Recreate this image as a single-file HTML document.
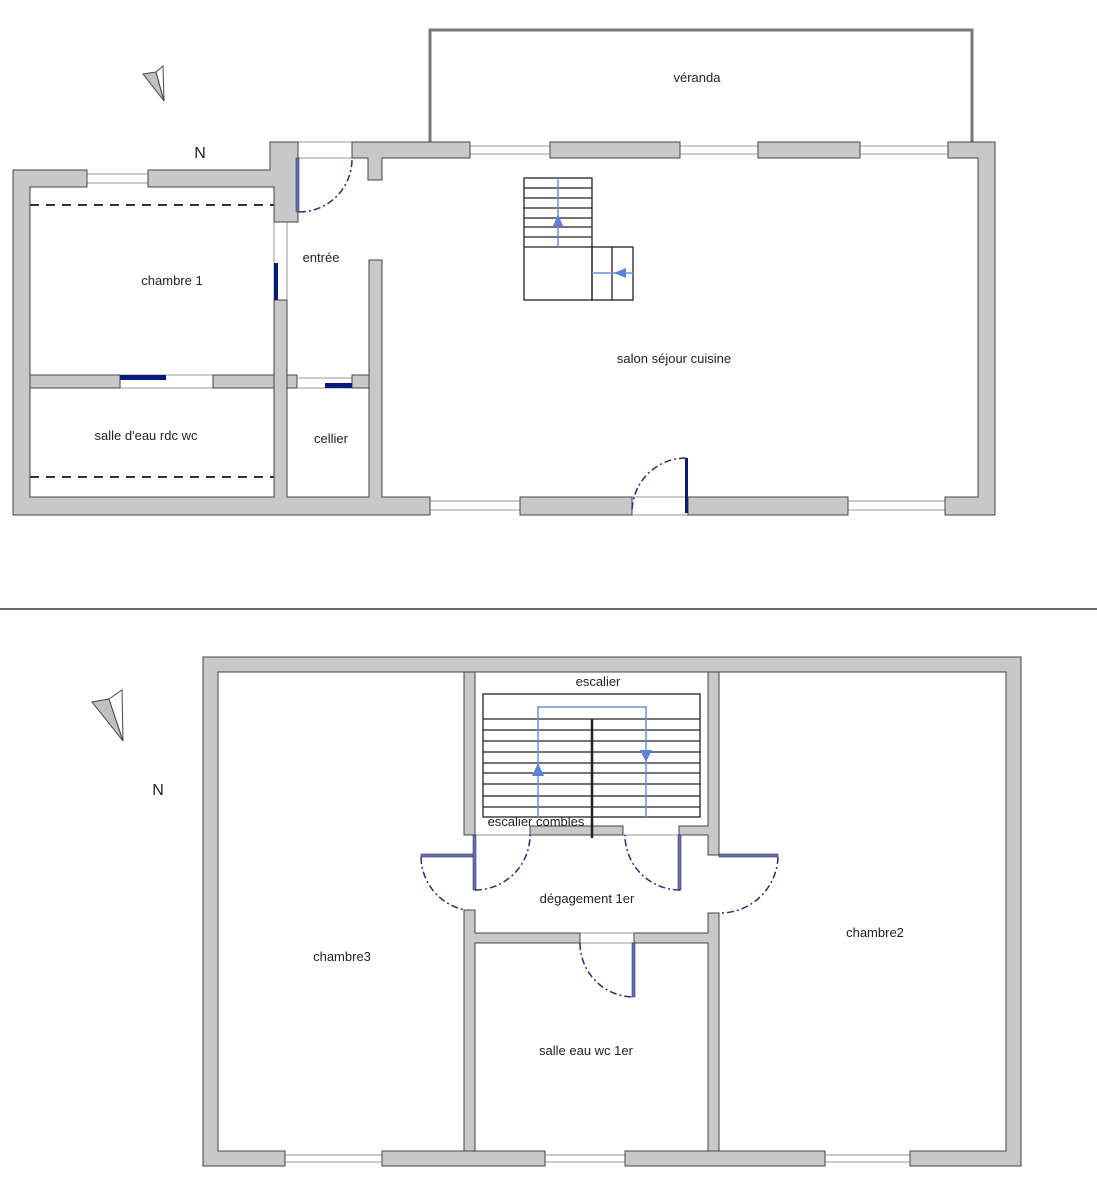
<!DOCTYPE html>
<html><head><meta charset="utf-8"><style>
html,body{margin:0;padding:0;background:#fff}
svg{display:block}
text{font-family:"Liberation Sans",sans-serif;font-size:13px;fill:#222}
.w{fill:#c8c8c8;stroke:#444;stroke-width:1}
.win{stroke:#999;stroke-width:1;fill:none}
.d{fill:none;stroke:#2a2a7a;stroke-width:1.5;stroke-dasharray:7,3,2,3}
.st{fill:none;stroke:#222;stroke-width:1.3}
.b{stroke:#6a8fd8;stroke-width:1.5;fill:none}
</style></head><body>
<svg width="1097" height="1200" viewBox="0 0 1097 1200" xmlns="http://www.w3.org/2000/svg">
<!-- véranda -->
<path d="M430 142 V30 H972 V142" fill="none" stroke="#777" stroke-width="3"/>
<text x="697" y="82" text-anchor="middle">véranda</text>
<!-- north arrow 1 -->
<polygon points="143,74 156,72 164,101" fill="#c0c0c0" stroke="#444" stroke-width="1"/>
<polygon points="156,72 163,66 164,101" fill="#fff" stroke="#444" stroke-width="1"/>
<text x="200" y="158" text-anchor="middle" style="font-size:16px">N</text>
<!-- ground floor windows -->
<g class="win">
<line x1="87" y1="174" x2="148" y2="174"/><line x1="87" y1="183" x2="148" y2="183"/>
<line x1="470" y1="146" x2="550" y2="146"/><line x1="470" y1="154" x2="550" y2="154"/>
<line x1="680" y1="146" x2="758" y2="146"/><line x1="680" y1="154" x2="758" y2="154"/>
<line x1="860" y1="146" x2="948" y2="146"/><line x1="860" y1="154" x2="948" y2="154"/>
<line x1="298" y1="142" x2="352" y2="142"/><line x1="298" y1="158" x2="352" y2="158"/>
<line x1="430" y1="501" x2="520" y2="501"/><line x1="430" y1="510" x2="520" y2="510"/>
<line x1="848" y1="501" x2="945" y2="501"/><line x1="848" y1="510" x2="945" y2="510"/>
<line x1="632" y1="497" x2="688" y2="497"/><line x1="632" y1="515" x2="688" y2="515"/>
<line x1="274" y1="222" x2="274" y2="300"/><line x1="287" y1="222" x2="287" y2="300"/>
<line x1="120" y1="375" x2="213" y2="375"/><line x1="120" y1="388" x2="213" y2="388"/>
<line x1="298" y1="378" x2="352" y2="378"/><line x1="298" y1="388" x2="352" y2="388"/>
</g>
<!-- ground floor walls -->
<path class="w" d="M13 170 H87 V187 H30 V497 H274 V300 H287 V497 H369 V260 H382 V497 H430 V515 H13 Z"/>
<rect class="w" x="520" y="497" width="112" height="18"/>
<rect class="w" x="688" y="497" width="160" height="18"/>
<path class="w" d="M945 497 H978 V158 H948 V142 H995 V515 H945 Z"/>
<path class="w" d="M148 170 H270 V142 H298 V222 H274 V187 H148 Z"/>
<path class="w" d="M352 142 H470 V158 H382 V180 H368 V158 H352 Z"/>
<rect class="w" x="550" y="142" width="130" height="16"/>
<rect class="w" x="758" y="142" width="102" height="16"/>
<rect class="w" x="30" y="375" width="90" height="13"/>
<rect class="w" x="213" y="375" width="61" height="13"/>
<path class="w" d="M287 375 H297 V388 H287 Z"/>
<path class="w" d="M352 375 H369 V388 H352 Z"/>
<!-- blue leaves -->
<rect x="274" y="263" width="4" height="37" fill="#0a1a7a"/>
<rect x="120" y="375" width="46" height="5" fill="#0a1a7a"/>
<rect x="325" y="383" width="27" height="5" fill="#0a1a7a"/>
<rect x="296" y="158" width="3" height="54" fill="#6a70c0" stroke="#223" stroke-width=".5"/>
<rect x="685" y="458" width="3" height="55" fill="#0a1a7a"/>
<path class="d" d="M299 212 A53 53 0 0 0 352 158"/>
<path class="d" d="M686 458 A54 54 0 0 0 632 512"/>
<!-- dashed -->
<line x1="30" y1="205" x2="274" y2="205" stroke="#333" stroke-width="2" stroke-dasharray="9,7"/>
<line x1="30" y1="477" x2="274" y2="477" stroke="#333" stroke-width="2" stroke-dasharray="9,7"/>
<!-- stairs ground -->
<g class="st">
<rect x="524" y="178" width="68" height="122"/>
<rect x="592" y="247" width="41" height="53"/>
<line x1="612" y1="247" x2="612" y2="300"/>
<line x1="524" y1="188" x2="592" y2="188"/><line x1="524" y1="198" x2="592" y2="198"/>
<line x1="524" y1="208" x2="592" y2="208"/><line x1="524" y1="218" x2="592" y2="218"/>
<line x1="524" y1="227" x2="592" y2="227"/><line x1="524" y1="237" x2="592" y2="237"/>
<line x1="524" y1="247" x2="592" y2="247"/>
</g>
<line class="b" x1="558" y1="178" x2="558" y2="247"/>
<polygon points="558,214 553,226 563,226" fill="#5a82d8"/>
<line class="b" x1="592" y1="273" x2="633" y2="273"/>
<polygon points="614,273 626,268 626,278" fill="#5a82d8"/>
<text x="172" y="285" text-anchor="middle">chambre 1</text>
<text x="321" y="262" text-anchor="middle">entrée</text>
<text x="674" y="363" text-anchor="middle">salon séjour cuisine</text>
<text x="146" y="440" text-anchor="middle">salle d'eau rdc wc</text>
<text x="331" y="443" text-anchor="middle">cellier</text>
<!-- separator -->
<line x1="0" y1="609" x2="1097" y2="609" stroke="#111" stroke-width="1.2"/>
<!-- north arrow 2 -->
<polygon points="92,702 109,699 123,741" fill="#c0c0c0" stroke="#444" stroke-width="1"/>
<polygon points="109,699 122,690 123,741" fill="#fff" stroke="#444" stroke-width="1"/>
<text x="158" y="795" text-anchor="middle" style="font-size:16px">N</text>
<!-- upper windows -->
<g class="win">
<line x1="285" y1="1155" x2="382" y2="1155"/><line x1="285" y1="1162" x2="382" y2="1162"/>
<line x1="545" y1="1155" x2="625" y2="1155"/><line x1="545" y1="1162" x2="625" y2="1162"/>
<line x1="825" y1="1155" x2="910" y2="1155"/><line x1="825" y1="1162" x2="910" y2="1162"/>
<line x1="475" y1="835" x2="708" y2="835"/>
<line x1="580" y1="933" x2="634" y2="933"/><line x1="580" y1="943" x2="634" y2="943"/>
</g>
<!-- upper walls -->
<path class="w" fill-rule="evenodd" d="M203 657 H1021 V1166 H910 V1151 H1006 V672 H218 V1151 H285 V1166 H203 Z"/>
<rect class="w" x="382" y="1151" width="163" height="15"/>
<rect class="w" x="625" y="1151" width="200" height="15"/>
<path class="w" d="M464 672 H475 V835 H464 Z"/>
<path class="w" d="M464 910 H475 V933 H580 V943 H475 V1151 H464 Z"/>
<path class="w" d="M708 672 H719 V855 H708 V835 H679 V826 H708 Z"/>
<path class="w" d="M708 913 H719 V1151 H708 V943 H634 V933 H708 Z"/>
<rect class="w" x="530" y="826" width="93" height="9"/>
<!-- stairs upper -->
<g class="st">
<rect x="483" y="694" width="217" height="123"/>
<line x1="483" y1="719" x2="700" y2="719"/><line x1="483" y1="730" x2="700" y2="730"/>
<line x1="483" y1="741" x2="700" y2="741"/><line x1="483" y1="752" x2="700" y2="752"/>
<line x1="483" y1="763" x2="700" y2="763"/><line x1="483" y1="773" x2="700" y2="773"/>
<line x1="483" y1="784" x2="700" y2="784"/><line x1="483" y1="796" x2="700" y2="796"/>
<line x1="483" y1="807" x2="700" y2="807"/>
<line x1="592" y1="719" x2="592" y2="838" stroke-width="2.5"/>
</g>
<path class="b" d="M538 817 V707 H646 V817"/>
<polygon points="538,763 532,776 544,776" fill="#5a82d8"/>
<polygon points="646,762 640,750 652,750" fill="#5a82d8"/>
<!-- upper doors -->
<rect x="421" y="854" width="54" height="3" fill="#6a70c0" stroke="#223" stroke-width=".5"/>
<rect x="473" y="835" width="3" height="55" fill="#6a70c0" stroke="#223" stroke-width=".5"/>
<rect x="678" y="835" width="3" height="55" fill="#6a70c0" stroke="#223" stroke-width=".5"/>
<rect x="719" y="854" width="59" height="3" fill="#6a70c0" stroke="#223" stroke-width=".5"/>
<rect x="632" y="943" width="3" height="54" fill="#6a70c0" stroke="#223" stroke-width=".5"/>
<path class="d" d="M421 857 A55 55 0 0 0 465 910"/>
<path class="d" d="M475 890 A55 55 0 0 0 530 835"/>
<path class="d" d="M680 890 A55 55 0 0 1 625 835"/>
<path class="d" d="M778 857 A58 58 0 0 1 719 913"/>
<path class="d" d="M580 943 A54 54 0 0 0 634 997"/>
<text x="598" y="686" text-anchor="middle">escalier</text>
<text x="536" y="826" text-anchor="middle">escalier combles</text>
<text x="587" y="903" text-anchor="middle">dégagement 1er</text>
<text x="342" y="961" text-anchor="middle">chambre3</text>
<text x="875" y="937" text-anchor="middle">chambre2</text>
<text x="586" y="1055" text-anchor="middle">salle eau wc 1er</text>
</svg>
</body></html>
